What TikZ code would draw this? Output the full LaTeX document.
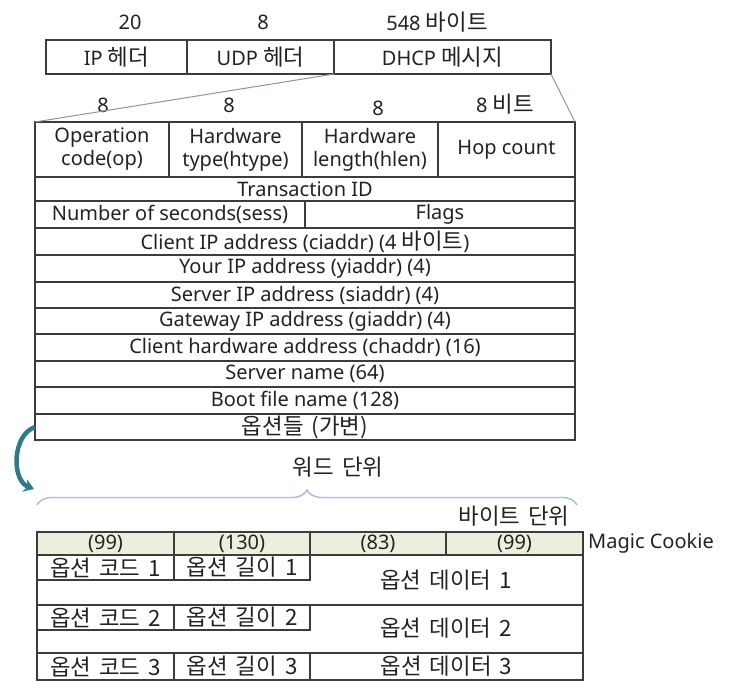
\documentclass[tikz,border=0pt]{standalone}
\usepackage{fontspec}
\setmainfont{Noto Sans}
\newfontfamily\kr[Scale=1.12, WordSpace=1.6]{Noto Sans CJK KR}
\usetikzlibrary{positioning, arrows.meta, decorations.pathreplacing}

\definecolor{linegray}{HTML}{3C3C3C}
\definecolor{zoomline}{HTML}{8596AC}
\definecolor{curlteal}{HTML}{2E7A8A}
\definecolor{bracecol}{HTML}{A9BCD3}
\definecolor{cookiefill}{HTML}{ECEFDB}
\definecolor{txtgray}{HTML}{222222}

\begin{document}
\begin{tikzpicture}[x = 1pt, y = -1pt, % pixel grid, y going down
                > = {Stealth[length=10pt, width=13pt]}, % arrow head style
                font = \fontsize{20}{23}\selectfont, text = txtgray,
                cell/.style = {draw = linegray, line width = 1.2pt, rectangle,
                  inner sep = 0pt, outer sep = 0pt, align = center},
                lbl/.style = {inner sep = 0pt}
            ]

            \useasboundingbox (0,0) rectangle (730,700);

            % packet: IP / UDP / DHCP
            \node (ipsize) [lbl] at (130,22) {20};
            \node (udpsize) [lbl] at (263,22) {8};
            \node (dhcpsize) [lbl] at (437,22) {548 {\kr 바이트}};
            \node (ip) [cell, anchor = north west, minimum width = 141pt,
            minimum height = 34pt] at (46,40) {IP {\kr 헤더}};
            \node (udp) [cell, right = 0pt of ip, minimum width = 147pt,
            minimum height = 34pt] {UDP {\kr 헤더}};
            \node (dhcp) [cell, right = 0pt of udp, minimum width = 217pt,
            minimum height = 34pt] {DHCP {\kr 메시지}};

            % DHCP message
            \node (opbits) [lbl] at (103,105) {8};
            \node (htypebits) [lbl] at (229,105) {8};
            \node (hlenbits) [lbl] at (378,108) {8};
            \node (hopbits) [lbl] at (505,104) {8 {\kr 비트}};

            \node (op) [cell, anchor = north west, minimum width = 134pt,
            minimum height = 55pt] at (35,122) {Operation\\code(op)};
            \node (htype) [cell, right = 0pt of op, minimum width = 133pt,
            minimum height = 55pt] {Hardware\\type(htype)};
            \node (hlen) [cell, right = 0pt of htype, minimum width = 136pt,
            minimum height = 55pt] {Hardware\\length(hlen)};
            \node (hop) [cell, right = 0pt of hlen, minimum width = 137pt,
            minimum height = 55pt] {Hop count};

            \node (xid) [cell, anchor = north west, minimum width = 540pt,
            minimum height = 24pt] at (op.south west) {Transaction ID};
            \node (secs) [cell, anchor = north west, minimum width = 270pt,
            minimum height = 27pt] at (xid.south west) {Number of seconds(sess)};
            \node (flags) [cell, right = 0pt of secs, minimum width = 270pt,
            minimum height = 27pt] {Flags};
            \node (ciaddr) [cell, anchor = north west, minimum width = 540pt,
            minimum height = 27pt] at (secs.south west)
            {Client IP address (ciaddr) (4 {\kr 바이트})};
            \node (yiaddr) [cell, anchor = north west, minimum width = 540pt,
            minimum height = 27pt] at (ciaddr.south west)
            {Your IP address (yiaddr) (4)};
            \node (siaddr) [cell, anchor = north west, minimum width = 540pt,
            minimum height = 26pt] at (yiaddr.south west)
            {Server IP address (siaddr) (4)};
            \node (giaddr) [cell, anchor = north west, minimum width = 540pt,
            minimum height = 26pt] at (siaddr.south west)
            {Gateway IP address (giaddr) (4)};
            \node (chaddr) [cell, anchor = north west, minimum width = 540pt,
            minimum height = 27pt] at (giaddr.south west)
            {Client hardware address (chaddr) (16)};
            \node (sname) [cell, anchor = north west, minimum width = 540pt,
            minimum height = 26pt] at (chaddr.south west) {Server name (64)};
            \node (file) [cell, anchor = north west, minimum width = 540pt,
            minimum height = 27pt] at (sname.south west) {Boot file name (128)};
            \node (opts) [cell, anchor = north west, minimum width = 540pt,
            minimum height = 26pt] at (file.south west) {{\kr 옵션들 (가변)}};

            \path[draw = zoomline, line width = 1pt] (dhcp.south west) -- (op.north west);
            \path[draw = zoomline, line width = 1pt] (dhcp.south east) -- (hop.north east);

            % options field
            \coordinate (curlend) at (34,489);
            \path[->, draw = curlteal, line width = 4.5pt] (opts.west) to[bend right = 70] (curlend);

            \coordinate (wordl) at (37,505); \coordinate (wordr) at (577,505);
            \path[draw = bracecol, line width = 1.4pt, decorate,
            decoration = {brace, amplitude = 15pt}] (wordl) -- (wordr);
            \node (wordunit) [lbl] at (338,467) {\kr 워드 단위};
            \node (byteunit) [lbl] at (514,516) {\kr 바이트 단위};

            \node (mc1) [cell, fill = cookiefill, anchor = north west,
            minimum width = 137pt, minimum height = 23pt] at (37,532) {(99)};
            \node (mc2) [cell, fill = cookiefill, right = 0pt of mc1,
            minimum width = 136pt, minimum height = 23pt] {(130)};
            \node (mc3) [cell, fill = cookiefill, right = 0pt of mc2,
            minimum width = 136pt, minimum height = 23pt] {(83)};
            \node (mc4) [cell, fill = cookiefill, right = 0pt of mc3,
            minimum width = 137pt, minimum height = 23pt] {(99)};
            \node (magic) [lbl, anchor = west] at (588,543) {Magic Cookie};

            \node (opt1) [cell, anchor = north west, minimum width = 546pt,
            minimum height = 50pt] at (mc1.south west) {};
            \node (code1) [cell, anchor = north west, minimum width = 137pt,
            minimum height = 25pt] at (opt1.north west) {\kr 옵션 코드 1};
            \node (len1) [cell, right = 0pt of code1, minimum width = 136pt,
            minimum height = 25pt] {\kr 옵션 길이 1};
            \node (data1) [lbl] at (446,580) {\kr 옵션 데이터 1};

            \node (opt2) [cell, anchor = north west, minimum width = 546pt,
            minimum height = 48pt] at (opt1.south west) {};
            \node (code2) [cell, anchor = north west, minimum width = 137pt,
            minimum height = 25pt] at (opt2.north west) {\kr 옵션 코드 2};
            \node (len2) [cell, right = 0pt of code2, minimum width = 136pt,
            minimum height = 25pt] {\kr 옵션 길이 2};
            \node (data2) [lbl] at (446,628) {\kr 옵션 데이터 2};

            \node (code3) [cell, anchor = north west, minimum width = 137pt,
            minimum height = 27pt] at (opt2.south west) {\kr 옵션 코드 3};
            \node (len3) [cell, right = 0pt of code3, minimum width = 136pt,
            minimum height = 27pt] {\kr 옵션 길이 3};
            \node (data3) [cell, right = 0pt of len3, minimum width = 273pt,
            minimum height = 27pt] {\kr 옵션 데이터 3};
\end{tikzpicture}
\end{document}
